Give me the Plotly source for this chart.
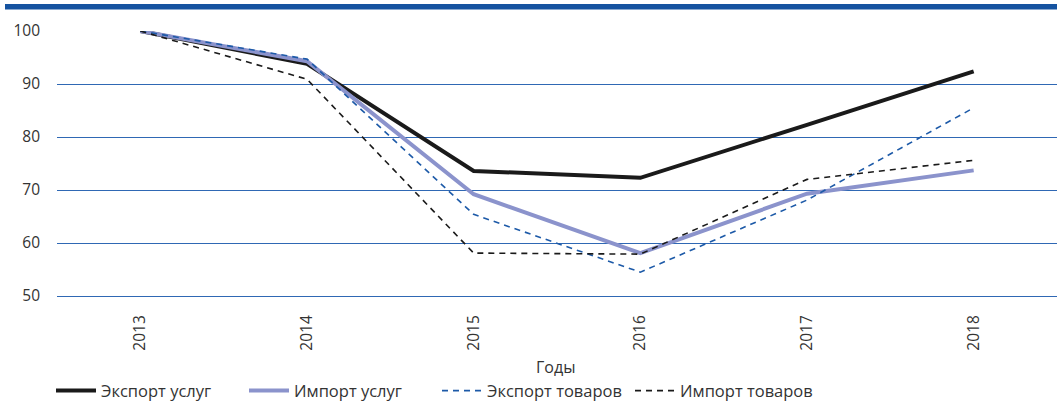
import plotly.graph_objects as go

years = ["2013", "2014", "2015", "2016", "2017", "2018"]
export_services = [100, 93.8, 73.6, 72.3, 82.3, 92.4]
import_services = [100, 94.3, 69.2, 58.1, 69.3, 73.7]
export_goods = [100, 94.7, 65.4, 54.5, 68.1, 85.5]
import_goods = [100, 90.9, 58.1, 57.9, 72.0, 75.6]

names = ["Экспорт услуг", "Импорт услуг", "Экспорт товаров", "Импорт товаров"]
y_ticks = [50, 60, 70, 80, 90, 100]

fig = go.Figure()
fig.add_trace(go.Scatter(x=years, y=export_services, name=names[0], mode="lines",
                         line=dict(color="#1a1a1a", width=4)))
fig.add_trace(go.Scatter(x=years, y=import_services, name=names[1], mode="lines",
                         line=dict(color="#8b93cc", width=4)))
fig.add_trace(go.Scatter(x=years, y=export_goods, name=names[2], mode="lines",
                         line=dict(color="#1d5aa8", width=1.6, dash="6px,5px")))
fig.add_trace(go.Scatter(x=years, y=import_goods, name=names[3], mode="lines",
                         line=dict(color="#1a1a1a", width=1.6, dash="6px,5px")))

fig.update_layout(
    width=1057, height=404,
    margin=dict(l=57, r=0, t=31, b=108, autoexpand=False),
    paper_bgcolor="white", plot_bgcolor="white",
    font=dict(family="Open Sans", color="#333333", size=15),
    showlegend=True,
    legend=dict(orientation="h", x=-0.006, xanchor="left", y=-0.358, yanchor="middle",
                font=dict(size=16.5, color="#333333"), entrywidth=138, entrywidthmode="pixels",
                itemwidth=40, tracegroupgap=0, bgcolor="rgba(0,0,0,0)"),
    xaxis=dict(type="category", range=[-0.5, 5.5], tickangle=-90, showgrid=False, zeroline=False,
               showline=True, linecolor="#2f68b4", linewidth=1,
               ticks="", tickfont=dict(size=15.5), ticklabelstandoff=12),
    yaxis=dict(range=[50, 100], tickvals=y_ticks, showgrid=True, gridcolor="#2f68b4",
               gridwidth=1, zeroline=False, showline=False, ticks="",
               tickfont=dict(size=15.5), ticklabelstandoff=16),
    shapes=[dict(type="rect", xref="paper", yref="paper",
                 x0=(5 - 57) / 1000, x1=1.0,
                 y0=1 + (31 - 9.5) / 265, y1=1 + (31 - 4) / 265,
                 fillcolor="#1553a0", line=dict(width=0), layer="above")],
    annotations=[dict(text="Годы", xref="paper", yref="paper", x=0.498, y=-0.268,
                      showarrow=False, font=dict(size=16, color="#333333"),
                      xanchor="center", yanchor="middle")],
)

fig.write_html("out.html", config={"displayModeBar": False},
               post_script="document.body.style.margin='0';")
